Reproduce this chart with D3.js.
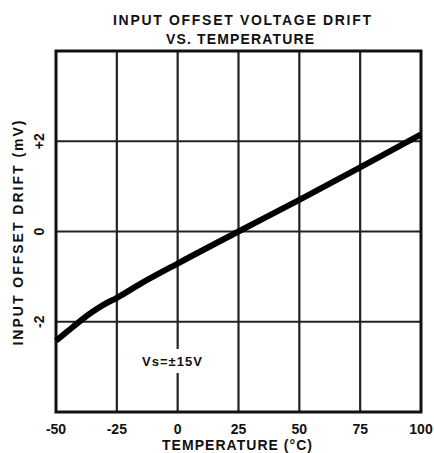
<!DOCTYPE html>
<html>
<head>
<meta charset="utf-8">
<script src="https://cdn.jsdelivr.net/npm/d3@7"></script>
<style>
  body { margin: 0; background: #fff; }
  text { font-family: "Liberation Sans", Arial, sans-serif; font-weight: bold; fill: #111; }
</style>
</head>
<body>
<div id="chart"></div>
<script>
// data
const temps = [-50, -45, -40, -35, -30, -25, -15, 0, 25, 50, 75, 100];
const drift = [-2.42, -2.2, -1.98, -1.78, -1.61, -1.47, -1.15, -0.71, 0, 0.7, 1.42, 2.15];
const xTicks = [-50, -25, 0, 25, 50, 75, 100];
const yTicks = [-2, 0, 2];
const yLabels = ["-2", "0", "+2"];

const width = 434, height = 453,
    margin = { top: 51, right: 13, bottom: 41, left: 56 };

const svg = d3.select("#chart")
    .append("svg")
    .attr("width", width)
    .attr("height", height);

const xScale = d3.scaleLinear()
    .domain([-50, 100])
    .range([margin.left, width - margin.right]);

const yScale = d3.scaleLinear()
    .domain([-4, 4])
    .range([height - margin.bottom, margin.top]);

// grid
svg.append("g")
    .selectAll("line")
    .data(xTicks.slice(1, -1))
    .join("line")
    .attr("x1", d => xScale(d)).attr("x2", d => xScale(d))
    .attr("y1", yScale(4)).attr("y2", yScale(-4))
    .attr("stroke", "#222").attr("stroke-width", 2.2);

svg.append("g")
    .selectAll("line")
    .data(yTicks)
    .join("line")
    .attr("x1", xScale(-50)).attr("x2", xScale(100))
    .attr("y1", d => yScale(d)).attr("y2", d => yScale(d))
    .attr("stroke", "#222").attr("stroke-width", 2.2);

// frame
svg.append("rect")
    .attr("x", xScale(-50)).attr("y", yScale(4))
    .attr("width", xScale(100) - xScale(-50))
    .attr("height", yScale(-4) - yScale(4))
    .attr("fill", "none").attr("stroke", "#111").attr("stroke-width", 3);

// note with white backing, it breaks the 0 grid line
const note = svg.append("g");
note.append("rect")
    .attr("x", 140).attr("y", 349).attr("width", 64).attr("height", 24)
    .attr("fill", "#fff");
note.append("text")
    .attr("x", 142).attr("y", 366)
    .attr("font-size", 13)
    .attr("textLength", 60)
    .text("Vs=±15V");

// curve
const line = d3.line()
    .x((d, i) => xScale(temps[i]))
    .y(d => yScale(d))
    .curve(d3.curveMonotoneX);

svg.append("path")
    .datum(drift)
    .attr("d", line)
    .attr("fill", "none")
    .attr("stroke", "#000")
    .attr("stroke-width", 6)
    .attr("stroke-linecap", "butt");

// x tick labels
svg.append("g")
    .selectAll("text")
    .data(xTicks)
    .join("text")
    .attr("x", d => xScale(d))
    .attr("y", 434)
    .attr("text-anchor", "middle")
    .attr("font-size", 14)
    .text(d => d);

// y tick labels (rotated)
svg.append("g")
    .selectAll("text")
    .data(yTicks)
    .join("text")
    .attr("transform", d => `translate(44, ${yScale(d)}) rotate(-90)`)
    .attr("text-anchor", "middle")
    .attr("font-size", 14)
    .text((d, i) => yLabels[i]);

// axis titles
svg.append("text")
    .attr("x", 237).attr("y", 450)
    .attr("text-anchor", "middle")
    .attr("font-size", 14)
    .attr("textLength", 150)
    .text("TEMPERATURE (°C)");

svg.append("text")
    .attr("transform", `translate(23, 233) rotate(-90)`)
    .attr("text-anchor", "middle")
    .attr("font-size", 14)
    .attr("textLength", 225)
    .text("INPUT OFFSET DRIFT (mV)");

// title
svg.append("text")
    .attr("x", 242).attr("y", 25)
    .attr("text-anchor", "middle")
    .attr("font-size", 14)
    .attr("textLength", 258)
    .text("INPUT OFFSET VOLTAGE DRIFT");

svg.append("text")
    .attr("x", 240).attr("y", 44)
    .attr("text-anchor", "middle")
    .attr("font-size", 14)
    .attr("textLength", 148)
    .text("VS. TEMPERATURE");
</script>
</body>
</html>
